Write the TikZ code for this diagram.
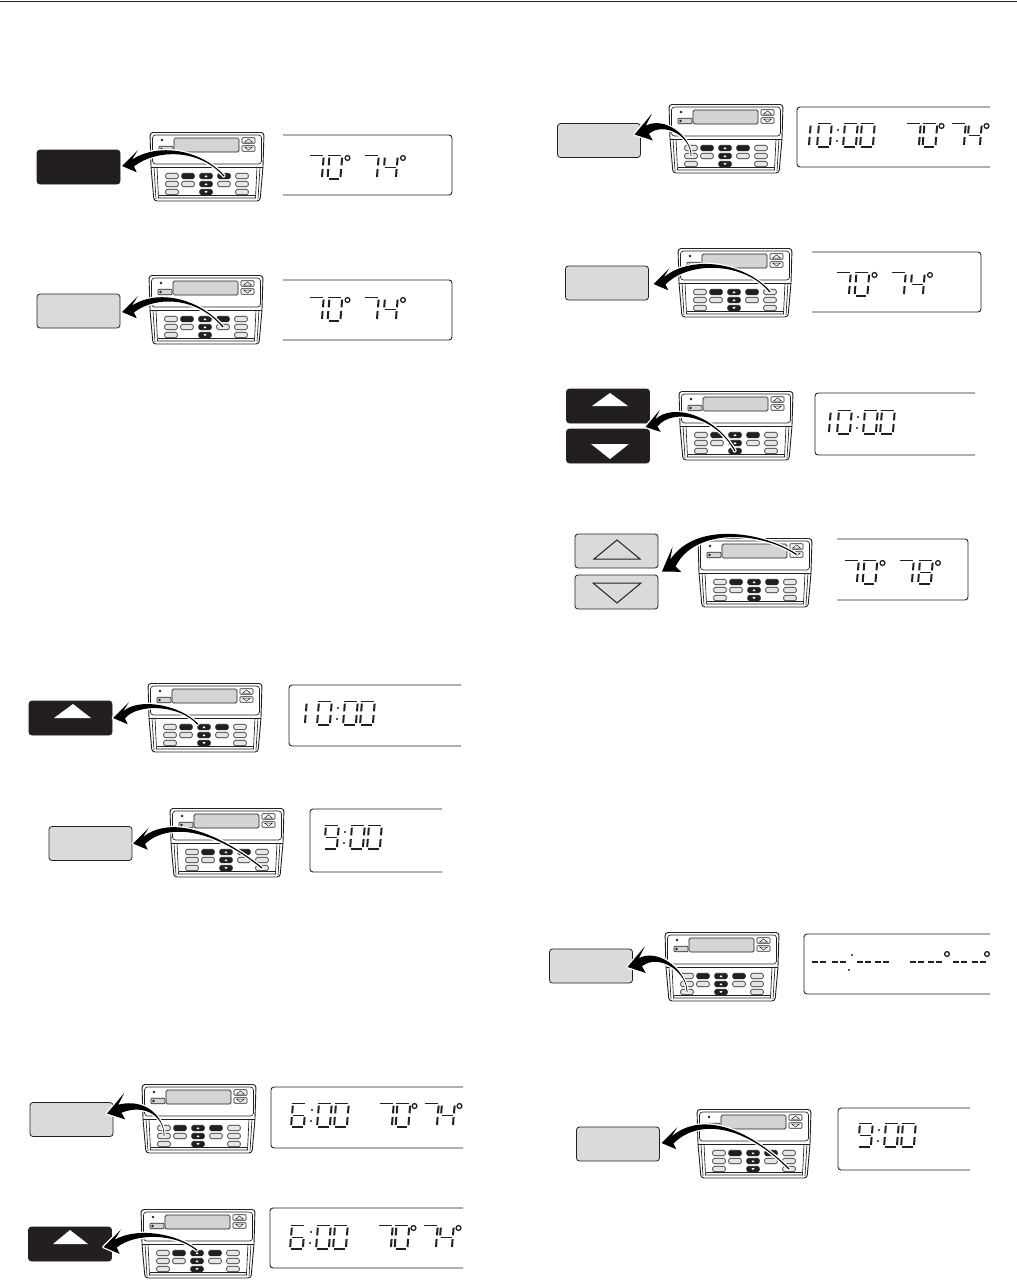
\documentclass[tikz,border=0pt]{standalone}
\usetikzlibrary{calc}
\definecolor{ink}{HTML}{231F20}
\definecolor{keygray}{HTML}{DADADA}
\definecolor{lcdgray}{HTML}{D4D4D4}
\definecolor{btngray}{HTML}{E6E6E6}
\tikzset{
  body/.style={draw=ink,line width=0.9pt,fill=white,line join=round},
  thin line/.style={draw=ink,line width=0.65pt},
  btn/.style={draw=ink,line width=0.6pt,fill=btngray,rounded corners=1.5pt,minimum width=12.5pt,minimum height=5.5pt,inner sep=0pt,outer sep=0pt},
  btndark/.style={btn,fill=ink},
  keylight/.style={draw=ink,line width=0.8pt,fill=keygray,rounded corners=3pt,minimum width=83pt,minimum height=34pt,inner sep=0pt,outer sep=0pt},
  keydark/.style={keylight,fill=ink},
  panelline/.style={draw=ink,line width=0.9pt,rounded corners=3pt},
  seg/.style={draw=ink,line width=2pt},
  sevseg/.style={draw=ink,line width=1.5pt},
  arrowshape/.style={fill=black,preaction={draw=white,line width=2.6pt,line join=round}},
}
\newcommand\Sa{\draw[sevseg] (1.5,0.6)--(14.6,0.6);}
\newcommand\Sb{\draw[seg] (15.6,2.6)--(15,10.4);}
\newcommand\Sc{\draw[seg] (14.6,14)--(14,22);}
\newcommand\Sd{\draw[sevseg] (2,24.2)--(12.6,24.2);}
\newcommand\Se{\draw[seg] (1.8,14)--(1.2,22);}
\newcommand\Sf{\draw[seg] (2.8,2.6)--(2.2,10.4);}
\newcommand\Sg{\draw[sevseg] (2.8,12.4)--(13.6,12.4);}
\expandafter\def\csname Dig0\endcsname{\Sa\Sb\Sc\Sd\Se\Sf}
\expandafter\def\csname Dig1\endcsname{\Sb\Sc}
\expandafter\def\csname Dig4\endcsname{\Sb\Sc\Sf\Sg}
\expandafter\def\csname Dig6\endcsname{\Sa\Sc\Sd\Se\Sf\Sg}
\expandafter\def\csname Dig7\endcsname{\Sa\Sb\Sc}
\expandafter\def\csname Dig8\endcsname{\Sa\Sb\Sc\Sd\Se\Sf\Sg}
\expandafter\def\csname Dig9\endcsname{\Sa\Sb\Sc\Sd\Sf\Sg}
\newcommand\dig[3]{\begin{scope}[shift={(#1,#2)}]\csname Dig#3\endcsname\end{scope}}
\newcommand\degr[2]{\draw[draw=ink,line width=1.3pt] (#1,#2) circle (2.4pt);}
\newcommand\clnA[2]{\fill[ink] (#1+1,#2+7) circle (1.2pt);\fill[ink] (#1,#2+18) circle (1.2pt);}
% temperature pair: wide spacing
\newcommand\temps[4]{%
  \dig{#1}{#2}{7}\dig{#1+18.5}{#2}{0}\degr{#1+39.5}{#2+3}%
  \dig{#1+55}{#2}{7}\dig{#1+74}{#2}{#3}\degr{#1+95}{#2+3}}
% temperature pair: tight spacing
\newcommand\tempsT[2]{%
  \dig{#1}{#2}{7}\dig{#1+16.5}{#2}{0}\degr{#1+36.5}{#2+3}%
  \dig{#1+45}{#2}{7}\dig{#1+61}{#2}{4}\degr{#1+81.5}{#2+3}}
% time: hour digit + colon + 00
\newcommand\clock[3]{%
  \dig{#1}{#2}{#3}\clnA{#1+21}{#2}\dig{#1+26}{#2}{0}\dig{#1+43}{#2}{0}}
\newcommand\panelR[4]{\draw[panelline] (#1,#3)--(#2,#3)--(#2,#4)--(#1,#4);}
\newcommand\panelO[4]{\draw[panelline] (#2,#3)--(#1,#3)--(#1,#4)--(#2,#4);}
% thermostat #1 at origin (#2,#3)
\newcommand\tstat[3]{%
\begin{scope}[shift={(#2,#3)}]
  \draw[body,rounded corners=3pt] (0,1.5)--(114,1.5)--(113,36)--(110,70)--(4,70)--(1,36)--cycle;
  \draw[thin line,rounded corners=3pt] (2.5,4)--(111.5,4)--(111.5,33)--(2.5,33)--cycle;
  \draw[thin line] (1,36)--(113,36);
  \draw[thin line] (7,36)--(8.5,67)--(105.5,67)--(107,36);
  \draw[thin line] (4,36)--(6,68);
  \draw[thin line] (110,36)--(108,68);
  \draw[thin line] (8.5,64.5)--(105.5,64.5);
  \draw[draw=ink,line width=0.7pt,fill=lcdgray,rounded corners=1.5pt] (24,7)rectangle(89,21);
  \node[btn,rounded corners=0.8pt,minimum width=13pt,minimum height=5.5pt,fill=white] (#1-up) at (98.5,9.5) {};
  \node[btn,rounded corners=0.8pt,minimum width=13pt,minimum height=5.5pt,fill=white] (#1-dn) at (98.5,17.5) {};
  \draw[thin line,line width=0.5pt] (94.5,11)--(98.5,8)--(102.5,11)--cycle;
  \draw[thin line,line width=0.5pt] (94.5,16)--(98.5,19)--(102.5,16)--cycle;
  \fill[ink] (12,9) circle (1.3pt);
  \node[btn,rounded corners=0.8pt,minimum width=14pt,minimum height=5.5pt,fill=lcdgray] (#1-set) at (16,18) {};
  \fill[ink] (11.5,18) circle (1.3pt);
  \foreach \rr/\cc/\xx/\yy/\st in {1/1/22/45/btn,1/2/38/45/btndark,1/3/56/45/btndark,1/4/74/45/btndark,1/5/92/45/btn,
    2/1/22/53/btn,2/2/38/53/btn,2/3/56/53/btndark,2/4/74/53/btn,2/5/92/53/btn,
    3/1/22/61/btn,3/3/56/61/btndark,3/5/92/61/btn}{
    \node[\st] (#1-r\rr c\cc) at (\xx,\yy) {};
  }
  \fill[white] (54.5,46)--(56,44)--(57.5,46)--cycle;
  \fill[white] (54.5,54)--(56,52)--(57.5,54)--cycle;
  \fill[white] (54.5,60.2)--(56,62.2)--(57.5,60.2)--cycle;
\end{scope}}
% tapered press arrow: #1 start, #2 tip, #3 first control offset, #4 second control offset, #5 head rotation, #6 head size
\newcommand\pressarrow[6]{%
  \path[arrowshape] ($(#1)+(0.45,-0.45)$) .. controls ($(#1)+(#3)$) and ($(#2)+(#4)+(0,-2.6)$) .. ($(#2)+({#5-33}:{12*#6})$)
    -- ($(#2)+({#5-45}:{22.5*#6})$) -- (#2) -- ($(#2)+({#5+23}:{16*#6})$) -- ($(#2)+({#5+2}:{12*#6})$)
    .. controls ($(#2)+(#4)+(0,2.6)$) and ($(#1)+(#3)+(0.9,0.9)$) .. ($(#1)+(-0.45,0.45)$) -- cycle;}
\begin{document}
\begin{tikzpicture}[x=1pt,y=-1pt]
\useasboundingbox (0,0) rectangle (1017,1282);
\fill[white] (0,0) rectangle (1017,1282);
\draw[draw=ink,line width=1.1pt] (0,1.5)--(1017,1.5);

% ---- left column ----
\tstat{a}{150}{131}
\node[keydark] (ka) at (78.5,167) {};
\coordinate (ta) at ($(ka.east)+(2,-1)$);
\pressarrow{a-r1c4}{ta}{-25,-28}{35,-20}{0}{1}
\panelR{283}{452}{135}{195}
\temps{308}{155}{4}{}

\tstat{b}{149}{274}
\node[keylight] (kb) at (78.5,311) {};
\coordinate (tb) at ($(kb.east)+(2,1)$);
\pressarrow{b-r2c4}{tb}{-25,-30}{35,-20}{0}{1}
\panelR{283}{452}{280}{340}
\temps{308}{297}{4}{}

\tstat{c}{148}{682}
\node[keydark] (kc) at (70.5,718) {};
\fill[white] (73,704)--(91,718)--(54,718)--cycle;
\coordinate (tc) at ($(kc.east)+(1,0)$);
\pressarrow{c-r1c3.north west}{tc}{-18,-20}{25,-18}{0}{1}
\panelO{289}{461}{685}{746}
\dig{291}{701}{1}\clock{316}{701}{0}

\tstat{d}{170}{807}
\node[keylight] (kd) at (90.5,843.5) {};
\coordinate (td) at ($(kd.east)+(1,0)$);
\pressarrow{d-r3c5}{td}{-47,-38}{37,-25}{0}{1}
\panelO{310}{442}{809}{872}
\clock{323}{825}{9}

\tstat{e}{142}{1083}
\node[keylight] (ke) at (71.5,1119.5) {};
\coordinate (te) at ($(ke.north east)+(-6,11)$);
\pressarrow{e-r2c1}{te}{0,-20}{38,-13}{-5}{1.2}
\panelO{271}{463}{1087}{1148}
\clock{290}{1103}{6}\tempsT{378}{1103}

\tstat{f}{141}{1208}
\node[keydark] (kf) at (70,1244) {};
\fill[white] (70,1230)--(88,1244)--(53,1244)--cycle;
\coordinate (tf) at ($(kf.east)+(-8,3)$);
\pressarrow{f-r1c3.north}{tf}{-22,-18}{32,-17}{0}{1.1}
\panelO{270}{463}{1208}{1268}
\clock{289}{1225}{6}\tempsT{377}{1225}

% ---- right column ----
\tstat{g}{669}{103}
\node[keylight] (kg) at (599,140.5) {};
\coordinate (tg) at ($(kg.north east)+(-6,11)$);
\pressarrow{g-r2c1}{tg}{0,-20}{30,-16}{-5}{1.2}
\panelO{797}{990}{107}{167}
\dig{795}{123}{1}\clock{816}{123}{0}\tempsT{905}{123}

\tstat{h}{678}{247}
\node[keylight] (kh) at (607,283) {};
\coordinate (th) at ($(kh.east)+(5,1)$);
\pressarrow{h-r1c5}{th}{-25,-30}{37,-27}{0}{1}
\panelR{812}{981}{252}{312}
\temps{835}{272}{4}{}

\tstat{i}{679}{390}
\node[keydark] (ki) at (608,406) {};
\node[keydark] (kj) at (608,446) {};
\fill[white] (610,393)--(628,406)--(592,406)--cycle;
\fill[white] (591,444)--(629,444)--(610,459)--cycle;
\coordinate (ti) at ($(ki.south east)!.5!(kj.north east)+(-4,1)$);
\pressarrow{i-r3c3}{ti}{-20,-36}{27,-22}{-5}{1}
\panelO{815}{975}{393}{455}
\dig{815}{410}{1}\clock{836}{410}{0}

\tstat{k}{698}{537}
\node[keylight] (kk) at (616.5,551) {};
\node[keylight] (kl) at (616.5,592) {};
\draw[draw=ink,line width=1pt,line join=miter] (617,540)--(640,559)--(594,559)--cycle;
\draw[draw=ink,line width=1pt,line join=miter] (593,583)--(641,583)--(617,603)--cycle;
\coordinate (tk) at ($(kk.south east)!.5!(kl.north east)+(4,0)$);
\pressarrow{k-dn}{tk}{-36,-24}{33,-47}{-22}{1.2}
\panelR{837}{968}{539}{600}
\temps{843}{560}{8}{}

\tstat{m}{665}{931}
\node[keylight] (km) at (591,966) {};
\coordinate (tm) at ($(km.east)+(-5,1)$);
\pressarrow{m-r3c1}{tm}{0,-20}{32,-17}{-5}{1.2}
\panelO{804}{990}{934}{994}
\foreach \gx in {812,832,857,875,910,928,953,972}{
  \draw[draw=ink,line width=1.5pt] (\gx,962)--(\gx+6,962) (\gx+8,962)--(\gx+14,962);
}
\fill[ink] (852,955) circle (1.2pt);
\fill[ink] (849,970) circle (1.2pt);
\degr{947}{954}\degr{987}{954}

\tstat{n}{697}{1108}
\node[keylight] (kn) at (618,1144) {};
\coordinate (tn) at ($(kn.east)+(2,-1)$);
\pressarrow{n-r3c5}{tn}{-44,-44}{38,-28}{0}{1}
\panelO{838}{970}{1108}{1170}
\clock{857}{1123}{9}
\end{tikzpicture}
\end{document}
